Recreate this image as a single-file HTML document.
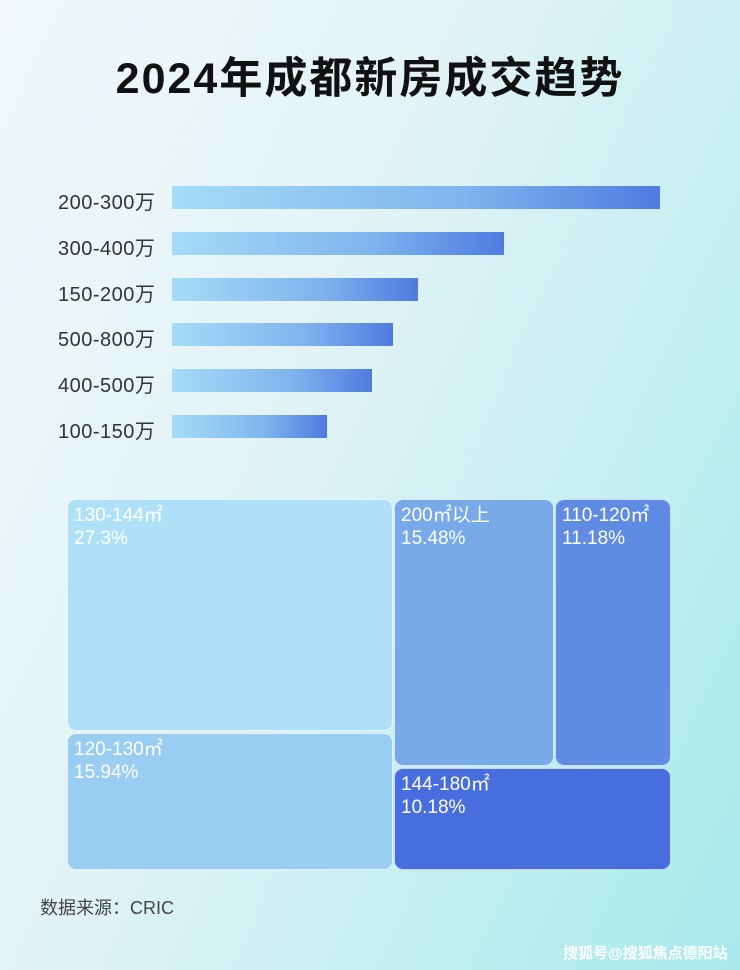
<!DOCTYPE html>
<html><head><meta charset="utf-8"><style>
body{margin:0;width:740px;height:970px;overflow:hidden;font-family:"Liberation Sans","Noto Sans CJK SC",sans-serif;
background:linear-gradient(115deg,#f2f8fb 0%,#e2f3f6 40%,#bfeef0 75%,#a8e9ec 100%);position:relative}
.t{position:absolute;left:0;width:740px;top:44px;text-align:center;font-size:43px;font-weight:bold;color:#111;letter-spacing:2px}
.l{position:absolute;left:58px;font-size:20px;color:#333;width:115px;letter-spacing:0.5px}
.b{position:absolute;left:172px;height:23px;background:linear-gradient(90deg,#a5dcf6,#7fb4ee 60%,#4f7be0)}
.r{position:absolute;border-radius:9px;border:1.5px solid rgba(255,255,255,.7);box-sizing:border-box;color:#fff;font-size:19px;line-height:23px;padding:4px 6px}
</style></head><body>
<div class="t">2024年成都新房成交趋势</div>
<div class="l" style="top:186px">200-300万</div><div class="b" style="top:186px;width:488px"></div>
<div class="l" style="top:232px">300-400万</div><div class="b" style="top:232px;width:332px"></div>
<div class="l" style="top:278px">150-200万</div><div class="b" style="top:278px;width:246px"></div>
<div class="l" style="top:323px">500-800万</div><div class="b" style="top:323px;width:221px"></div>
<div class="l" style="top:369px">400-500万</div><div class="b" style="top:369px;width:200px"></div>
<div class="l" style="top:415px">100-150万</div><div class="b" style="top:415px;width:155px"></div>
<div class="r" style="left:67px;top:499px;width:326px;height:232px;background:#aee1f8">130-144㎡<br>27.3%</div>
<div class="r" style="left:67px;top:733px;width:326px;height:137px;background:#9acdf2">120-130㎡<br>15.94%</div>
<div class="r" style="left:394px;top:499px;width:160px;height:267px;background:#78aaea">200㎡以上<br>15.48%</div>
<div class="r" style="left:555px;top:499px;width:116px;height:267px;background:#5f8be3">110-120㎡<br>11.18%</div>
<div class="r" style="left:394px;top:768px;width:277px;height:102px;background:#486ddf">144-180㎡<br>10.18%</div>
<div style="position:absolute;left:40px;top:894px;font-size:18px;color:#444">数据来源：CRIC</div>
<div style="position:absolute;left:563px;top:942px;font-size:15px;color:#fff;font-weight:bold">搜狐号@搜狐焦点德阳站</div>
</body></html>
